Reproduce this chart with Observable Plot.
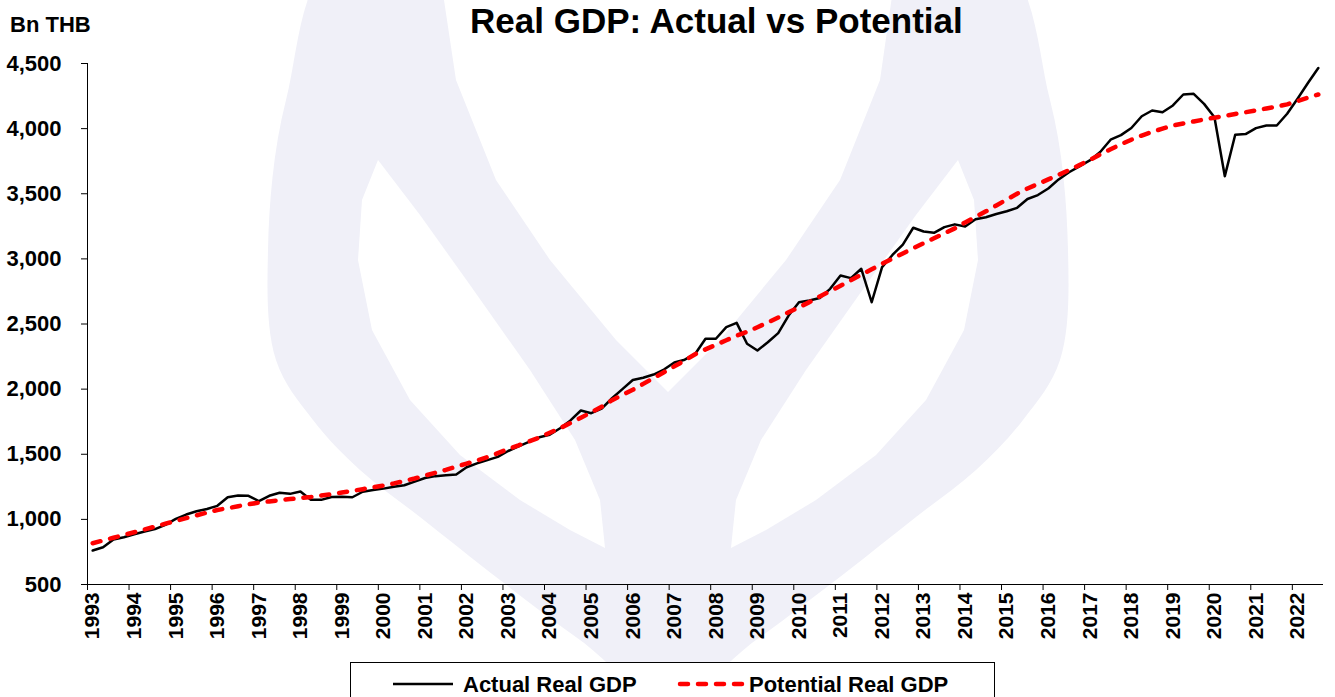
<!DOCTYPE html>
<html><head><meta charset="utf-8">
<script src="https://cdn.jsdelivr.net/npm/d3@7"></script>
<script src="https://cdn.jsdelivr.net/npm/@observablehq/plot@0.6"></script>
<style>
body{margin:0;background:#fff;font-family:"Liberation Sans",Arial,sans-serif;}
#wrap{position:relative;width:1335px;height:697px;overflow:hidden;background:#fff;}
#bg,#chart{position:absolute;left:0;top:0;}
.lbl{position:absolute;font-weight:bold;white-space:nowrap;color:#000;}
#title{left:470px;top:3px;font-size:35px;line-height:35px;}
#unit{left:10px;top:14px;font-size:22px;line-height:22px;}
#legend{position:absolute;left:350px;top:662px;width:645px;height:60px;border:1px solid #000;background:#fff;box-sizing:border-box;}
</style></head>
<body>
<div id="wrap">
  <svg id="bg" width="1335" height="697"></svg>
  <div id="chart"></div>
  <div class="lbl" id="title">Real GDP: Actual vs Potential</div>
  <div class="lbl" id="unit">Bn THB</div>
  <div id="legend"></div>
</div>
<script>
// ---- data (Bn THB, quarterly, 1993Q1 – 2022Q3) ----
const yearTicks = [1993,1994,1995,1996,1997,1998,1999,2000,2001,2002,2003,2004,2005,2006,2007,2008,2009,2010,2011,2012,2013,2014,2015,2016,2017,2018,2019,2020,2021,2022];
const yTicks = [500,1000,1500,2000,2500,3000,3500,4000,4500];
const quarterNames = ["Q1","Q2","Q3","Q4"];
const seriesNames = ["Actual Real GDP","Potential Real GDP"];
const actual = [
  761, 786, 845, 863,
  886, 907, 925, 958,
  1004, 1037, 1062, 1080,
  1104, 1170, 1183, 1181,
  1140, 1181, 1204, 1196,
  1214, 1150, 1150, 1172,
  1173, 1170, 1212, 1225,
  1236, 1250, 1262, 1290,
  1318, 1332, 1338, 1345,
  1400, 1430, 1455, 1480,
  1525, 1560, 1595, 1630,
  1650, 1700, 1760, 1836,
  1815, 1850, 1930, 2000,
  2070, 2087, 2112, 2150,
  2205, 2226, 2270, 2387,
  2387, 2476, 2509, 2348,
  2297, 2360, 2430, 2565,
  2667, 2680, 2700, 2770,
  2872, 2852, 2924, 2667,
  2937, 3030, 3110, 3239,
  3210, 3200, 3244, 3265,
  3249, 3305, 3320, 3345,
  3366, 3392, 3460, 3490,
  3540, 3610, 3665, 3710,
  3756, 3820, 3915, 3950,
  4005, 4095, 4139, 4126,
  4178, 4262, 4267, 4190,
  4088, 3635, 3953, 3958,
  4004, 4024, 4024, 4114,
  4230, 4350, 4465
];
const potential = [
  817, 838, 859, 880,
  901, 923, 945, 967,
  988, 1010, 1031, 1052,
  1072, 1086, 1101, 1116,
  1128, 1138, 1147, 1156,
  1164, 1172, 1183, 1194,
  1206, 1219, 1232, 1246,
  1260, 1276, 1295, 1314,
  1336, 1358, 1380, 1405,
  1428, 1452, 1478, 1508,
  1540, 1568, 1598, 1628,
  1665, 1700, 1740, 1780,
  1822, 1864, 1915, 1955,
  1995, 2040, 2085, 2130,
  2175, 2220, 2268, 2305,
  2340, 2375, 2410, 2440,
  2475, 2512, 2550, 2590,
  2628, 2668, 2712, 2752,
  2794, 2836, 2878, 2920,
  2962, 3002, 3042, 3082,
  3120, 3158, 3196, 3234,
  3280, 3322, 3365, 3410,
  3455, 3500, 3540, 3575,
  3610, 3645, 3682, 3720,
  3760, 3802, 3842, 3880,
  3915, 3947, 3975, 4000,
  4024, 4040, 4055, 4070,
  4084, 4098, 4112, 4126,
  4140, 4155, 4170, 4186,
  4212, 4238, 4262
];

// quarter i sits in the middle of its quarter slot
const rows = actual.map((a, i) => ({
  label: (1993 + Math.floor(i / 4)) + quarterNames[i % 4],
  t: 1993 + (i + 0.5) / 4,
  actual: a,
  potential: potential[i]
}));

// ---- faint watermark (decorative) ----
(function(){
  const bg = d3.select("#bg");
  const lav = "#F0F0F8";
  const closed = d3.line().curve(d3.curveCatmullRomClosed.alpha(0.5));
  const poly = d3.line().curve(d3.curveLinearClosed);
  const outer = [[350,-60],[985,-60],[1050,100],[1068,250],[1060,360],[1023,420],[976,470],[916,517],[836,580],[756,640],[668,700],[580,640],[500,580],[420,517],[360,470],[313,420],[276,360],[268,250],[286,100]];
  bg.append("path").attr("d", closed(outer)).attr("fill", lav);
  const heart = [[435,-60],[900,-60],[880,80],[840,180],[786,260],[720,340],[668,392],[616,340],[550,260],[496,180],[456,80]];
  bg.append("path").attr("d", poly(heart)).attr("fill", "#fff");
  const leaf = [[378,160],[420,215],[470,285],[530,370],[575,440],[600,500],[605,548],[570,530],[520,500],[460,455],[410,400],[372,330],[358,260],[362,200]];
  bg.append("path").attr("d", poly(leaf)).attr("fill", "#fff");
  bg.append("path").attr("d", poly(leaf.map(([x,y]) => [1336 - x, y]))).attr("fill", "#fff");
})();

// ---- chart ----
const chart = Plot.plot({
  width: 1335,
  height: 650,
  marginLeft: 87,
  marginRight: 12,
  marginTop: 63,
  marginBottom: 66,
  x: {type: "linear", domain: [1993, 2022.75]},
  y: {domain: [500, 4500]},
  style: {background: "transparent", fontFamily: "'Liberation Sans', Arial, sans-serif", color: "#000", overflow: "visible"},
  marks: [
    Plot.axisY({ticks: yTicks, tickFormat: d3.format(","), tickSize: 6, tickPadding: 20, fontSize: 22, fontWeight: "bold", label: null}),
    Plot.axisX({ticks: yearTicks, tickSize: 6, tickFormat: () => "", label: null}),
    Plot.axisX({ticks: yearTicks.map(y => y + 0.125), tickSize: 0, tickPadding: 8, tickRotate: -90, tickFormat: d => String(Math.floor(d)), fontSize: 21, fontWeight: "bold", label: null}),
    Plot.ruleX([1993]),
    Plot.ruleY([500]),
    Plot.line(rows, {x: "t", y: "actual", stroke: "#000", strokeWidth: 2.5}),
    Plot.line(rows, {x: "t", y: "potential", stroke: "#ff0000", strokeWidth: 4.5, strokeDasharray: "8,10", strokeLinecap: "round"})
  ]
});
document.getElementById("chart").appendChild(chart);

// ---- legend ----
(function(){
  const lg = d3.select("#legend");
  const svg = lg.append("svg").attr("width", 645).attr("height", 40).style("position","absolute").style("left","0").style("top","0");
  svg.append("line").attr("x1", 42).attr("x2", 102).attr("y1", 21).attr("y2", 21).attr("stroke", "#000").attr("stroke-width", 2.5);
  svg.append("line").attr("x1", 329).attr("x2", 392).attr("y1", 21).attr("y2", 21).attr("stroke", "#ff0000").attr("stroke-width", 4.5).attr("stroke-dasharray", "8,10").attr("stroke-linecap", "round");
  const t = svg.append("g").attr("font-family", "'Liberation Sans', Arial, sans-serif").attr("font-size", 22).attr("font-weight", "bold");
  t.append("text").attr("x", 112).attr("y", 29).text(seriesNames[0]);
  t.append("text").attr("x", 398).attr("y", 29).text(seriesNames[1]);
})();
</script>
</body></html>
